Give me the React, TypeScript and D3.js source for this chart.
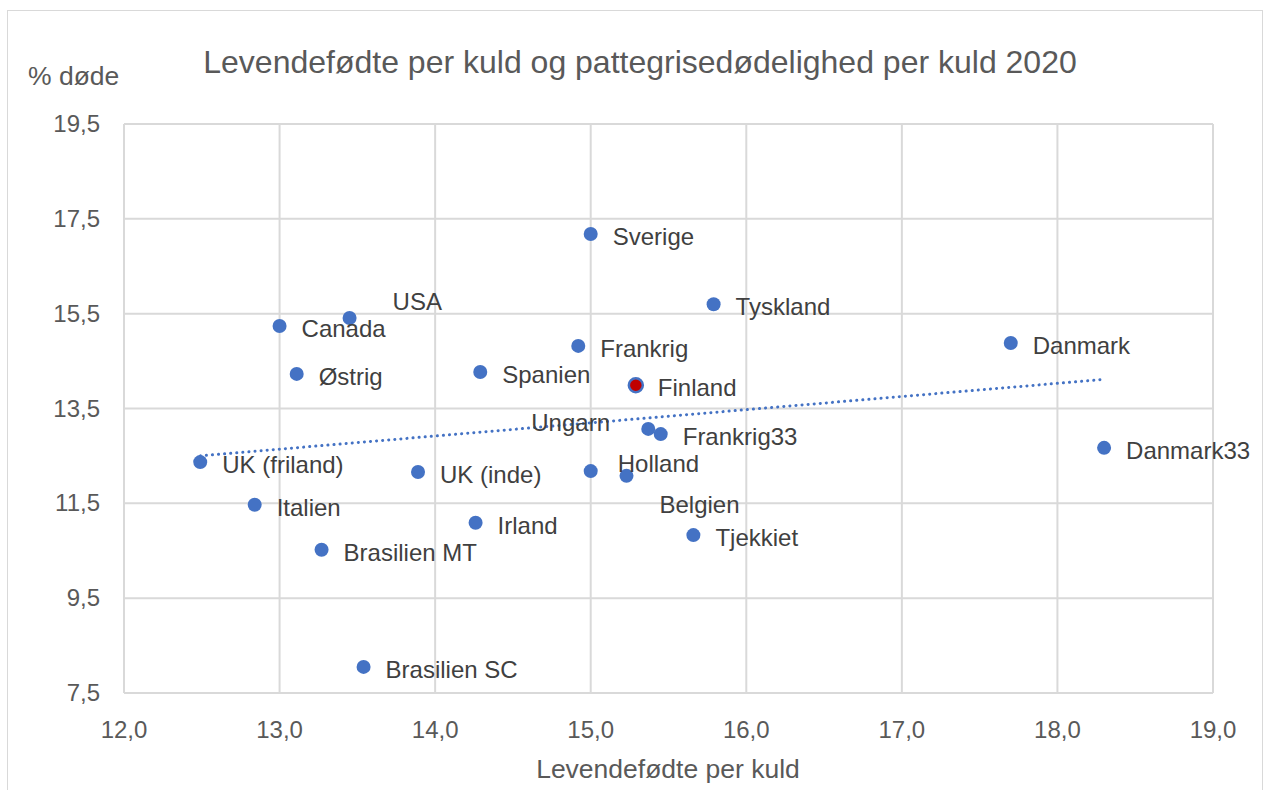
import React, { useEffect, useRef } from 'react'
import * as d3 from 'd3'

// countries and their values (x = levendefødte per kuld, y = % døde)
const countries = [
  'Sverige', 'Tyskland', 'USA', 'Canada', 'Frankrig', 'Danmark', 'Østrig',
  'Spanien', 'Finland', 'Ungarn', 'Frankrig33', 'Danmark33', 'UK (friland)',
  'UK (inde)', 'Holland', 'Belgien', 'Italien', 'Irland', 'Tjekkiet',
  'Brasilien MT', 'Brasilien SC'
]
const liveborn = [
  15.0, 15.79, 13.45, 13.0, 14.92, 17.7, 13.11,
  14.29, 15.29, 15.37, 15.45, 18.3, 12.49,
  13.89, 15.0, 15.23, 12.84, 14.26, 15.66,
  13.27, 13.54
]
const mortality = [
  17.18, 15.7, 15.41, 15.24, 14.82, 14.88, 14.23,
  14.27, 13.99, 13.07, 12.96, 12.67, 12.37,
  12.16, 12.18, 12.08, 11.47, 11.09, 10.83,
  10.52, 8.05
]
const xTicks = [12, 13, 14, 15, 16, 17, 18, 19]
const yTicks = [7.5, 9.5, 11.5, 13.5, 15.5, 17.5, 19.5]

// label nudges (Excel labels moved by hand)
const labelShift: Record<string, [number, number]> = {
  'USA': [43, -16],
  'Ungarn': [-117, -6],
  'Holland': [27, -7],
  'Belgien': [33, 29]
}

const W = 1271, H = 790
const margin = { top: 124, right: 58, bottom: 97, left: 124 }

export default function App() {
  const ref = useRef<SVGSVGElement>(null)

  useEffect(() => {
    const svg = d3.select(ref.current)
    svg.selectAll('*').remove()

    const font = 'Liberation Sans, Arial, sans-serif'
    const x = d3.scaleLinear().domain([12, 19]).range([margin.left, W - margin.right])
    const y = d3.scaleLinear().domain([7.5, 19.5]).range([H - margin.bottom, margin.top])

    // frame
    svg.append('rect')
      .attr('x', 7.5).attr('y', 10.5)
      .attr('width', 1255).attr('height', 790)
      .attr('fill', '#fff').attr('stroke', '#d9d9d9')

    // gridlines
    svg.append('g').selectAll('line').data(xTicks).enter().append('line')
      .attr('x1', d => x(d)).attr('x2', d => x(d))
      .attr('y1', y(19.5)).attr('y2', y(7.5))
      .attr('stroke', '#d9d9d9').attr('stroke-width', 2)
    svg.append('g').selectAll('line').data(yTicks).enter().append('line')
      .attr('x1', x(12)).attr('x2', x(19))
      .attr('y1', d => y(d)).attr('y2', d => y(d))
      .attr('stroke', '#d9d9d9').attr('stroke-width', 2)

    // axis tick labels
    const fmt = (d: number) => d3.format('.1f')(d).replace('.', ',')
    svg.append('g').selectAll('text').data(xTicks).enter().append('text')
      .attr('x', d => x(d)).attr('y', H - margin.bottom + 45)
      .attr('text-anchor', 'middle')
      .attr('font-family', font).attr('font-size', 24).attr('fill', '#595959')
      .text(fmt)
    svg.append('g').selectAll('text').data(yTicks).enter().append('text')
      .attr('x', 100).attr('y', d => y(d) + 8)
      .attr('text-anchor', 'end')
      .attr('font-family', font).attr('font-size', 24).attr('fill', '#595959')
      .text(fmt)

    // titles
    svg.append('text')
      .attr('x', 640).attr('y', 73).attr('text-anchor', 'middle')
      .attr('font-family', font).attr('font-size', 32).attr('fill', '#595959')
      .text('Levendefødte per kuld og pattegrisedødelighed per kuld 2020')
    svg.append('text')
      .attr('x', 668).attr('y', 778).attr('text-anchor', 'middle')
      .attr('font-family', font).attr('font-size', 26.5).attr('fill', '#595959')
      .text('Levendefødte per kuld')
    svg.append('text')
      .attr('x', 28).attr('y', 85)
      .attr('font-family', font).attr('font-size', 26.5).attr('fill', '#595959')
      .text('% døde')

    // linear trendline over the data
    const n = liveborn.length
    const mx = d3.mean(liveborn) as number
    const my = d3.mean(mortality) as number
    let sxy = 0, sxx = 0
    for (let i = 0; i < n; i++) {
      sxy += (liveborn[i] - mx) * (mortality[i] - my)
      sxx += (liveborn[i] - mx) ** 2
    }
    const slope = sxy / sxx
    const icpt = my - slope * mx
    const [x0, x1] = d3.extent(liveborn) as [number, number]
    svg.append('line')
      .attr('x1', x(x0)).attr('y1', y(icpt + slope * x0))
      .attr('x2', x(x1)).attr('y2', y(icpt + slope * x1))
      .attr('stroke', '#4472c4').attr('stroke-width', 3)
      .attr('stroke-dasharray', '0.1 6').attr('stroke-linecap', 'round')

    // points
    const pts = countries.map((c, i) => ({ c, x: liveborn[i], y: mortality[i] }))
    svg.append('g').selectAll('circle').data(pts).enter().append('circle')
      .attr('cx', d => x(d.x)).attr('cy', d => y(d.y)).attr('r', 7)
      .attr('fill', d => d.c === 'Finland' ? '#c00000' : '#4472c4')
      .attr('stroke', '#4472c4').attr('stroke-width', d => d.c === 'Finland' ? 2.5 : 0)

    // data labels
    svg.append('g').selectAll('text').data(pts).enter().append('text')
      .attr('x', d => x(d.x) + (labelShift[d.c] ? labelShift[d.c][0] : 22))
      .attr('y', d => y(d.y) + (labelShift[d.c] ? labelShift[d.c][1] : 3) + 8)
      .attr('font-family', font).attr('font-size', 24).attr('fill', '#404040')
      .text(d => d.c)
  }, [])

  return <svg ref={ref} width={W} height={H}
    style={{ position: 'absolute', left: 0, top: 0, background: '#fff' }} />
}
